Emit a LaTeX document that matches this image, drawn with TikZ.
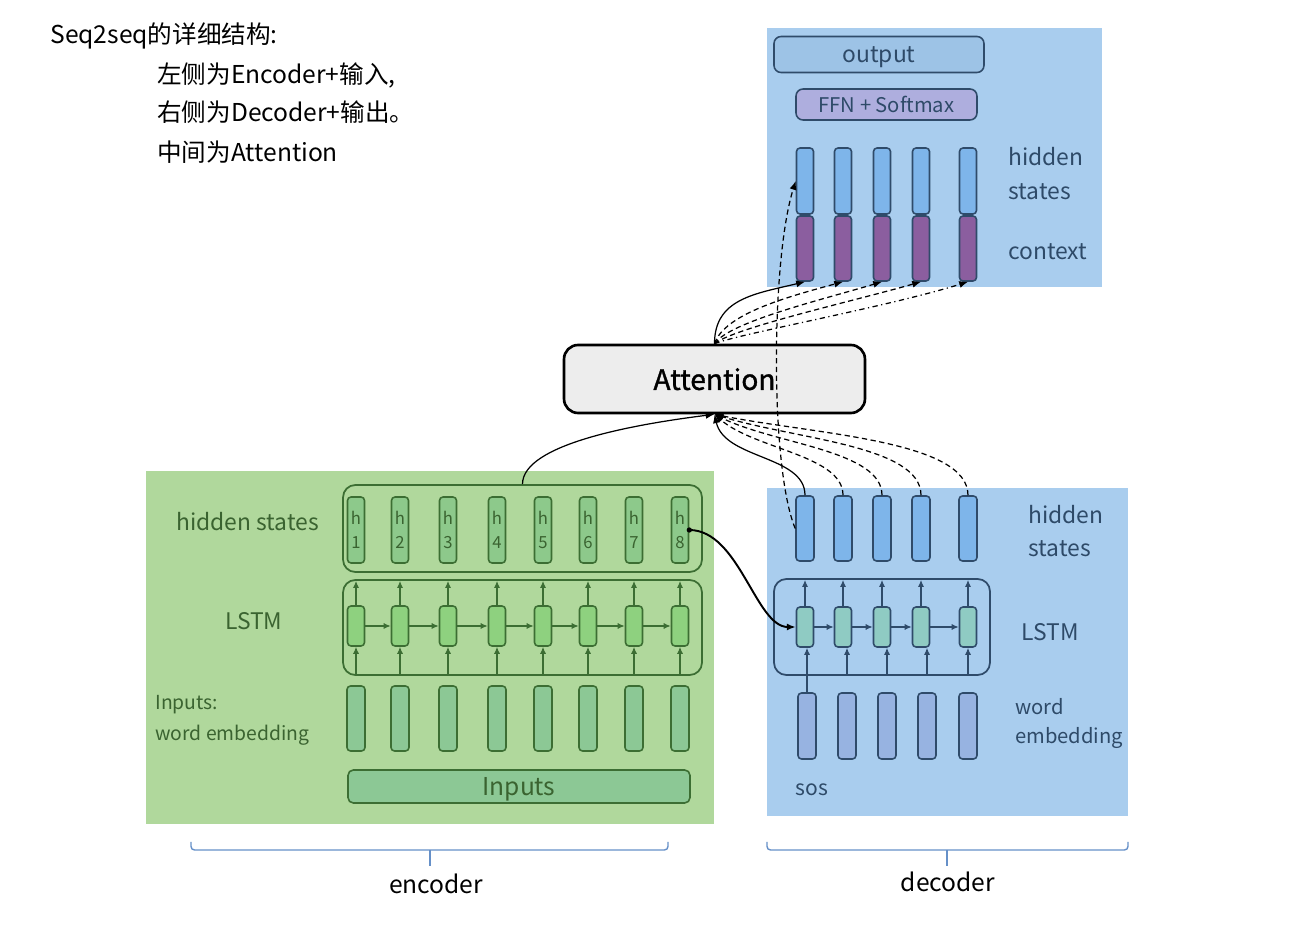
\documentclass[tikz,border=0pt]{standalone}
\usepackage{fontspec}
\setmainfont{Noto Sans CJK SC}
\usetikzlibrary{arrows.meta}

\definecolor{encbg}{HTML}{B0D89C}
\definecolor{encline}{HTML}{3C6E33}
\definecolor{enchid}{HTML}{8DC98B}
\definecolor{enclstm}{HTML}{8ED17F}
\definecolor{encemb}{HTML}{8CC895}
\definecolor{enctext}{HTML}{3A6330}
\definecolor{decbg}{HTML}{A9CDEE}
\definecolor{decline}{HTML}{2F4B6A}
\definecolor{dechid}{HTML}{7EB5EA}
\definecolor{ctxfill}{HTML}{8B5E9F}
\definecolor{outfill}{HTML}{9DC3E6}
\definecolor{ffnfill}{HTML}{AEAEDE}
\definecolor{declstm}{HTML}{8FCBC3}
\definecolor{decemb}{HTML}{97B3E1}
\definecolor{dectext}{HTML}{2E4A68}
\definecolor{attfill}{HTML}{EDEDED}
\definecolor{brkcol}{HTML}{6690C8}

\begin{document}
\begin{tikzpicture}[x=0.02cm,y=-0.02cm,
  lbl/.style={anchor=west,inner sep=0pt,font=\fontsize{13}{15}\selectfont},
  enclbl/.style={lbl,text=enctext},
  declbl/.style={lbl,text=dectext},
  cell/.style={draw,line width=0.9pt,rounded corners=2pt,minimum width=0.34cm,inner sep=0pt},
  ehcell/.style={cell,draw=encline,fill=enchid,minimum height=1.32cm,align=center,text=enctext,font=\fontsize{9.5}{14}\selectfont},
  elcell/.style={cell,draw=encline,fill=enclstm,minimum height=0.8cm},
  eecell/.style={cell,draw=encline,fill=encemb,minimum width=0.36cm,minimum height=1.3cm},
  thcell/.style={cell,draw=decline,fill=dechid,minimum height=1.32cm},
  ctxcell/.style={cell,draw=decline,fill=ctxfill,minimum height=1.3cm},
  dhcell/.style={cell,draw=decline,fill=dechid,minimum width=0.36cm,minimum height=1.3cm},
  dlcell/.style={cell,draw=decline,fill=declstm,minimum height=0.8cm},
  decell/.style={cell,draw=decline,fill=decemb,minimum width=0.36cm,minimum height=1.32cm},
  groupbox/.style={draw,line width=1pt,rounded corners=7pt,inner sep=0pt},
  earrow/.style={encline,line width=0.7pt,-{Latex[length=4pt,width=3.5pt]}},
  darrow/.style={decline,line width=0.7pt,-{Latex[length=4pt,width=3.5pt]}},
  attarrow/.style={black,line width=0.7pt,-{Latex[length=5pt,width=4pt]}},
  attdash/.style={attarrow,dash pattern=on 3pt off 2pt},
  brk/.style={brkcol,line width=0.8pt}
]
\useasboundingbox (0,0) rectangle (1306,935);

% notes
\node[anchor=base west,inner sep=0pt,font=\fontsize{14}{16}\selectfont] (title) at (50,44) {Seq2seq的详细结构:};
\node[anchor=base west,inner sep=0pt,font=\fontsize{14}{16}\selectfont] (note1) at (157,84) {左侧为Encoder+输入,};
\node[anchor=base west,inner sep=0pt,font=\fontsize{14}{16}\selectfont] (note2) at (157,122) {右侧为Decoder+输出。};
\node[anchor=base west,inner sep=0pt,font=\fontsize{14}{16}\selectfont] (note3) at (157,162) {中间为Attention};

% backgrounds
\fill[encbg] (146,471) rectangle (714,824);
\fill[decbg] (767,488) rectangle (1128,816);
\fill[decbg] (767,28) rectangle (1102,287);

% encoder
\node[groupbox,draw=encline,minimum width=7.18cm,minimum height=1.74cm] (ehbox) at (522.5,528.5) {};
\node[groupbox,draw=encline,minimum width=7.18cm,minimum height=1.9cm] (elbox) at (522.5,627.5) {};
\foreach \x [count=\i] in {356,400,448,497,543,588,634,680} {
  \node[ehcell] (eh\i) at (\x,530) {h\\\i};
  \node[elcell] (el\i) at (\x,626) {};
  \node[eecell] (ee\i) at (\x,718.5) {};
  \draw[earrow] (elbox.south -| el\i) -- (el\i.south);
  \draw[earrow,shorten >=1pt] (el\i.north) -- (elbox.north -| el\i);
}
\foreach \i [count=\j from 2] in {1,...,7}
  \draw[earrow] (el\i.east) -- (el\j.west);
\node[cell,draw=encline,fill=encemb,rounded corners=3pt,minimum width=6.84cm,minimum height=0.66cm,text=enctext,font=\fontsize{14}{16}\selectfont,text depth=0pt] (inputs) at (519,786.5) {Inputs};
\node[enclbl] (ehlbl) at (176,522) {hidden states};
\node[enclbl] (ellbl) at (225,621) {LSTM};
\node[enclbl,font=\fontsize{11}{13}\selectfont] (eelbl1) at (155,705) {Inputs:};
\node[enclbl,font=\fontsize{11}{13}\selectfont] (eelbl2) at (155,735) {word embedding};

% decoder
\node[groupbox,draw=decline,minimum width=4.32cm,minimum height=1.92cm] (dlbox) at (882,627) {};
\foreach \x/\y [count=\i] in {805/807,843/847,882/887,921/927,968/968} {
  \node[thcell] (th\i) at (\x,181) {};
  \node[ctxcell] (ctx\i) at (\x,248.5) {};
  \node[dhcell] (dh\i) at (\x,528.5) {};
  \node[dlcell] (dl\i) at (\x,627) {};
  \node[decell] (de\i) at (\y,726) {};
  \draw[darrow,shorten >=1pt] (dl\i.north) -- (dlbox.north -| dl\i);
}
\draw[darrow] (de1.north) -- (de1.north |- dl1.south);
\foreach \i in {2,...,5}
  \draw[darrow] (dlbox.south -| de\i) -- (de\i |- dl\i.south);
\foreach \i [count=\j from 2] in {1,...,4}
  \draw[darrow] (dl\i.east) -- (dl\j.west);
\node[cell,draw=decline,fill=outfill,rounded corners=4pt,minimum width=4.2cm,minimum height=0.72cm,text=dectext,font=\fontsize{13}{15}\selectfont,text depth=0pt] (output) at (879,54.5) {output};
\node[cell,draw=decline,fill=ffnfill,rounded corners=4pt,minimum width=3.62cm,minimum height=0.62cm,text=dectext,font=\fontsize{11.5}{13}\selectfont,text depth=0pt] (ffn) at (886.5,104.5) {FFN + Softmax};
\node[declbl] (thlbl1) at (1008,157) {hidden};
\node[declbl] (thlbl2) at (1008,192) {states};
\node[declbl] (ctxlbl) at (1008,252) {context};
\node[declbl] (dhlbl1) at (1028,515) {hidden};
\node[declbl] (dhlbl2) at (1028,549) {states};
\node[declbl] (dllbl) at (1021,632) {LSTM};
\node[declbl,font=\fontsize{11.5}{13}\selectfont] (delbl1) at (1015,707) {word};
\node[declbl,font=\fontsize{11.5}{13}\selectfont] (delbl2) at (1015,738) {embedding};
\node[declbl,font=\fontsize{12}{14}\selectfont] (sos) at (795,790) {sos};

% attention
\node[draw,line width=1.5pt,fill=attfill,rounded corners=8pt,minimum width=6.02cm,minimum height=1.36cm,font=\fontsize{16}{18}\selectfont\addfontfeature{FakeBold=1.2},text depth=0pt] (attn) at (714.5,379) {Attention};

\draw[attarrow] (attn.north) .. controls +(0,-45) and +(-50,12) .. (ctx1.south);
\foreach \i/\ax/\ay/\bx/\by in {2/10/-30/-55/15,3/15/-22/-60/18,4/20/-16/-70/20}
  \draw[attdash] (attn.north) .. controls +(\ax,\ay) and +(\bx,\by) .. (ctx\i.south);
\draw[attarrow,dash dot] (attn.north) .. controls +(25,-10) and +(-80,25) .. (ctx5.south);

\draw[attarrow] (dh1.north) .. controls +(0,-40) and +(10,45) .. (attn.south);
\foreach \i/\ax/\ay/\bx/\by in {2/0/-40/40/35,3/0/-45/60/30,4/0/-50/80/25,5/0/-55/100/20}
  \draw[attdash] (dh\i.north) .. controls +(\ax,\ay) and +(\bx,\by) .. (attn.south);
\draw[attarrow] (ehbox.north) .. controls +(0,-40) and +(-80,10) .. (attn.south);

\draw[attdash] (dh1.west) .. controls +(-25,-60) and +(-25,80) .. (th1.west);

\fill (eh8.east) circle (1.5pt);
\draw[black,line width=1.1pt,-{Latex[length=5pt,width=4pt]}] (eh8.east) .. controls +(50,0) and +(-40,0) .. (dl1.west);

% brackets
\draw[brk,rounded corners=2pt] (191,842) -- (191,850) -- (668,850) -- (668,842);
\draw[brk] (430,850) -- (430,866);
\draw[brk,rounded corners=2pt] (767,842) -- (767,850) -- (1128,850) -- (1128,842);
\draw[brk] (947,850) -- (947,866);
\node[font=\fontsize{14}{16}\selectfont] (enclbl) at (436,884) {encoder};
\node[font=\fontsize{14}{16}\selectfont] (declbl) at (948,882) {decoder};
\end{tikzpicture}
\end{document}
